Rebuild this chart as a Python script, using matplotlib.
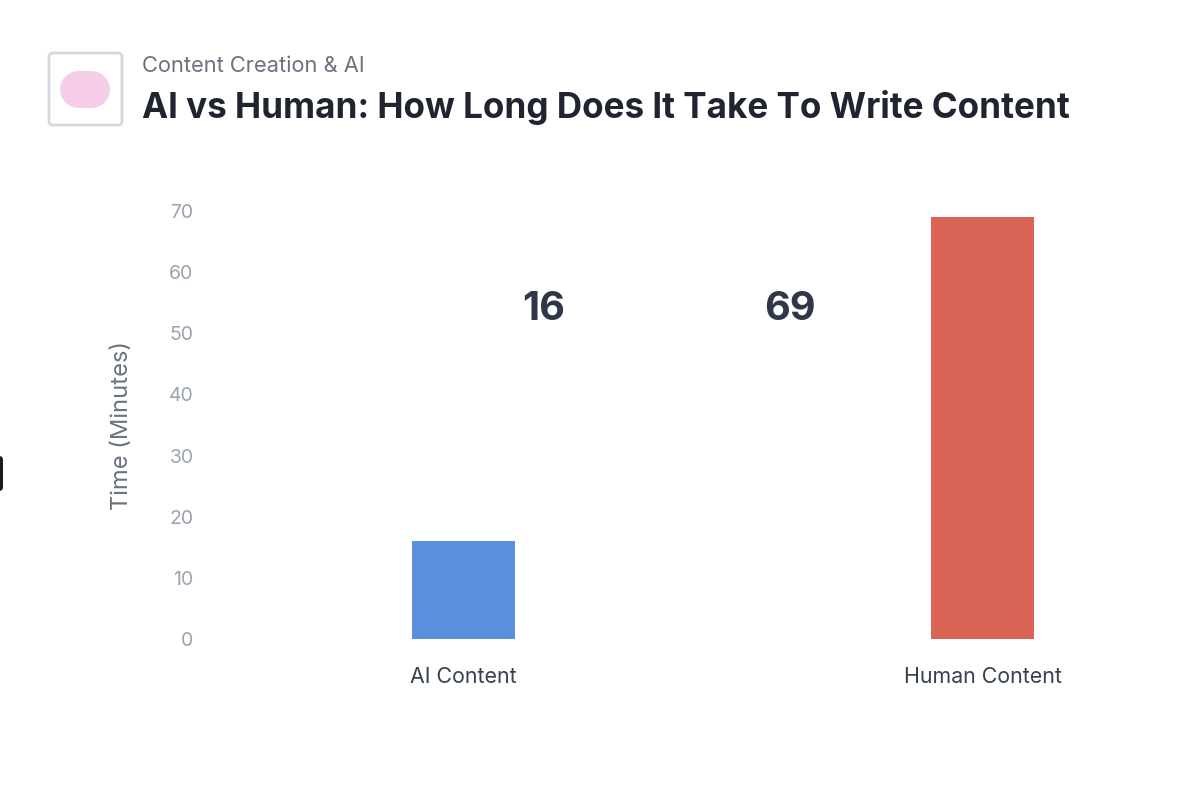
import matplotlib
matplotlib.use("Agg")
import matplotlib.pyplot as plt
from matplotlib.patches import FancyBboxPatch

categories = ["AI Content", "Human Content"]
minutes = [16, 69]
bar_colors = ["#5b8fde", "#d96354"]
yticks = [0, 10, 20, 30, 40, 50, 60, 70]

plt.rcParams['font.family'] = ['Inter', 'DejaVu Sans']
W, H = 1200, 786
fig = plt.figure(figsize=(W/100, H/100), dpi=100, facecolor='white')

def px_axes(l, t, r, b):
    return [l/W, 1-b/H, (r-l)/W, (b-t)/H]

ax = fig.add_axes(px_axes(204, 211, 1242, 639))
ax.bar([0, 1], minutes, width=0.198, color=bar_colors)
ax.set_xlim(-0.5, 1.5)
ax.set_ylim(0, 70)
ax.set_xticks([0, 1])
ax.set_xticklabels(categories, fontsize=15.4, color='#374151')
ax.set_yticks(yticks)
ax.tick_params(axis='y', length=0, labelsize=14, labelcolor='#9ca3af', pad=7.5)
ax.tick_params(axis='x', length=0, pad=20.3)
for s in ax.spines.values():
    s.set_visible(False)
ax.set_ylabel("Time (Minutes)", fontsize=17.1, color='#6b7280', labelpad=26)
ax.patch.set_alpha(0)

fig.text(544/W, 1-309.5/H, "16", fontsize=28.5, fontweight='bold', color='#2d3748', ha='center', va='center')
fig.text(790/W, 1-309.5/H, "69", fontsize=28.5, fontweight='bold', color='#2d3748', ha='center', va='center')
fig.text(142/W, 1-65.5/H, "Content Creation & AI", fontsize=15.75, color='#6b7280', ha='left', va='center')
fig.text(142/W, 1-107.5/H, "AI vs Human: How Long Does It Take To Write Content", fontsize=25.25, fontweight='bold', color='#1f2430', ha='left', va='center')

bg = fig.add_axes([0, 0, 1, 1], zorder=-1)
bg.set_xlim(0, W); bg.set_ylim(H, 0); bg.axis('off')
bg.add_patch(FancyBboxPatch((49, 53), 73, 72, boxstyle="round,pad=0,rounding_size=4", fc='white', ec='#d5d8dc', lw=2))
bg.plot([77.5, 90.5], [89, 89], color='#f5cde6', lw=26.6, solid_capstyle='round')
bg.add_patch(FancyBboxPatch((-8, 456), 11, 35, boxstyle="round,pad=0,rounding_size=4", fc='#1a1a1a', ec='none'))

fig.savefig('out.png', dpi=100)
